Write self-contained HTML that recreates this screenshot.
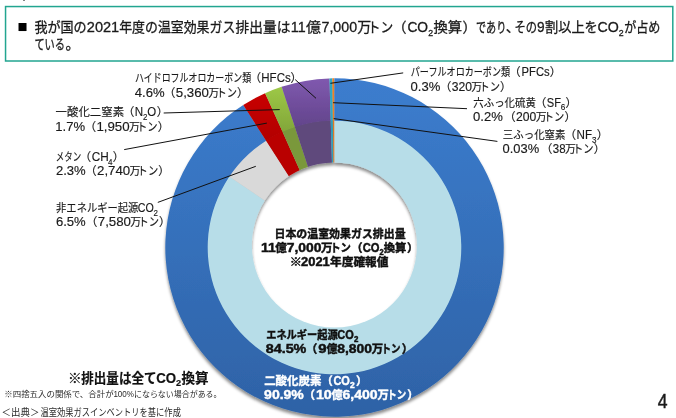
<!DOCTYPE html>
<html lang="ja"><head><meta charset="utf-8"><title>温室効果ガス排出量</title>
<style>html,body{margin:0;padding:0;background:#fff;}svg{display:block;font-family:'Liberation Sans','Noto Sans CJK JP',sans-serif;}</style>
</head><body>
<svg width="676" height="418" viewBox="0 0 676 418">
<defs>
<linearGradient id="gBlue" gradientUnits="userSpaceOnUse" x1="0" y1="78.3" x2="0" y2="416.7"><stop offset="0" stop-color="#3C7DCE"/><stop offset="1" stop-color="#2E62A6"/></linearGradient>
<linearGradient id="gRed" x1="0" y1="0" x2="0" y2="1"><stop offset="0" stop-color="#C80000"/><stop offset="1" stop-color="#B20000"/></linearGradient>
<linearGradient id="gGreen" x1="0" y1="0" x2="0" y2="1"><stop offset="0" stop-color="#9DC846"/><stop offset="1" stop-color="#82A63A"/></linearGradient>
<linearGradient id="gPurple" x1="0" y1="0" x2="0" y2="1"><stop offset="0" stop-color="#8059AF"/><stop offset="1" stop-color="#62448B"/></linearGradient>
<mask id="holeMask" maskUnits="userSpaceOnUse" x="0" y="0" width="676" height="440"><rect width="676" height="440" fill="#fff"/><circle cx="334.4" cy="245.0" r="82.6" fill="#000" filter="url(#blur05)"/></mask>
<filter id="ds" x="-5%" y="-5%" width="110%" height="112%"><feDropShadow dx="0" dy="2.8" stdDeviation="1.7" flood-color="#000" flood-opacity="0.45"/></filter>
<filter id="blur1" x="-10%" y="-10%" width="120%" height="120%"><feGaussianBlur stdDeviation="1.3"/></filter>
<filter id="blur05" x="-10%" y="-10%" width="120%" height="120%"><feGaussianBlur stdDeviation="0.6"/></filter>
</defs>
<rect width="676" height="418" fill="#fff"/>
<rect x="23.2" y="0" width="1.6" height="0.9" fill="#555"/>
<rect x="5.55" y="6.55" width="667.25" height="54.45" fill="#fff" stroke="#22A590" stroke-width="1.5"/>
<g filter="url(#ds)"><g mask="url(#holeMask)">
<path d="M334.50,120.10 A127.40,127.40 0 1 1 228.85,176.30 L276.45,208.38 A70.00,70.00 0 1 0 334.50,177.50 Z" fill="#B7DDE8" />
<path d="M228.85,176.30 A127.40,127.40 0 0 1 265.79,140.22 L296.75,188.55 A70.00,70.00 0 0 0 276.45,208.38 Z" fill="#D9D9D9" />
<path d="M265.79,140.22 A127.40,127.40 0 0 1 282.26,131.30 L305.80,183.66 A70.00,70.00 0 0 0 296.75,188.55 Z" fill="#B90000" />
<path d="M282.26,131.30 A127.40,127.40 0 0 1 294.69,126.48 L312.63,181.01 A70.00,70.00 0 0 0 305.80,183.66 Z" fill="#7A983A" />
<path d="M294.69,126.48 A127.40,127.40 0 0 1 330.68,120.16 L332.40,177.53 A70.00,70.00 0 0 0 312.63,181.01 Z" fill="#5F497C" />
<path d="M330.68,120.16 A127.40,127.40 0 0 1 332.87,120.11 L333.61,177.51 A70.00,70.00 0 0 0 332.40,177.53 Z" fill="#2F9DB8" />
<path d="M332.87,120.11 A127.40,127.40 0 0 1 334.24,120.10 L334.36,177.50 A70.00,70.00 0 0 0 333.61,177.51 Z" fill="#E07820" />
<path d="M334.24,120.10 A127.40,127.40 0 0 1 334.50,120.10 L334.50,177.50 A70.00,70.00 0 0 0 334.36,177.50 Z" fill="#B7DDE8" />
<path d="M334.50,78.30 A169.20,169.20 0 1 1 243.25,105.02 L266.11,140.72 A126.80,126.80 0 1 0 334.50,120.70 Z" fill="url(#gBlue)" />
<path d="M243.25,105.02 A169.20,169.20 0 0 1 265.12,93.18 L282.51,131.85 A126.80,126.80 0 0 0 266.11,140.72 Z" fill="url(#gRed)" />
<path d="M265.12,93.18 A169.20,169.20 0 0 1 281.63,86.77 L294.88,127.05 A126.80,126.80 0 0 0 282.51,131.85 Z" fill="url(#gGreen)" />
<path d="M281.63,86.77 A169.20,169.20 0 0 1 329.43,78.38 L330.70,120.76 A126.80,126.80 0 0 0 294.88,127.05 Z" fill="url(#gPurple)" />
<path d="M329.43,78.38 A169.20,169.20 0 0 1 332.34,78.31 L332.88,120.71 A126.80,126.80 0 0 0 330.70,120.76 Z" fill="#2FA7C4" />
<path d="M332.34,78.31 A169.20,169.20 0 0 1 334.15,78.30 L334.24,120.70 A126.80,126.80 0 0 0 332.88,120.71 Z" fill="#F08020" />
<path d="M334.15,78.30 A169.20,169.20 0 0 1 334.50,78.30 L334.50,120.70 A126.80,126.80 0 0 0 334.24,120.70 Z" fill="#3B7CCB" />
</g></g>
<line x1="295.2" y1="79.6" x2="316" y2="98.3" stroke="#111" stroke-width="1"/>
<line x1="163.7" y1="113.0" x2="279.7" y2="109.6" stroke="#111" stroke-width="1"/>
<line x1="124.2" y1="149.6" x2="266.9" y2="123.1" stroke="#111" stroke-width="1"/>
<line x1="157.8" y1="202.4" x2="255.8" y2="166.3" stroke="#111" stroke-width="1"/>
<line x1="403.2" y1="72.9" x2="330.4" y2="83.3" stroke="#111" stroke-width="1"/>
<line x1="467" y1="108.7" x2="333.1" y2="102.7" stroke="#111" stroke-width="1"/>
<line x1="497.4" y1="141.4" x2="333.7" y2="118.6" stroke="#111" stroke-width="1"/>
<text x="17.4" y="31.9" font-size="16.6" fill="#000">■</text>
<text x="34.4" y="31.6" font-size="14" fill="#1a1a1a" stroke="#1a1a1a" stroke-width="0.3" textLength="52.2" lengthAdjust="spacingAndGlyphs">我が国の</text>
<text x="86.8" y="31.6" font-size="15.120000000000001" fill="#1a1a1a" stroke="#1a1a1a" stroke-width="0.3" textLength="32.4" lengthAdjust="spacingAndGlyphs">2021</text>
<text x="119.2" y="31.6" font-size="14" fill="#1a1a1a" stroke="#1a1a1a" stroke-width="0.3" textLength="116.1" lengthAdjust="spacingAndGlyphs">年度の温室効果ガス</text>
<text x="235.6" y="31.6" font-size="14" fill="#1a1a1a" stroke="#1a1a1a" stroke-width="0.3" textLength="54.8" lengthAdjust="spacingAndGlyphs">排出量は</text>
<text x="290.8" y="31.6" font-size="15.120000000000001" fill="#1a1a1a" stroke="#1a1a1a" stroke-width="0.3" textLength="14.8" lengthAdjust="spacingAndGlyphs">11</text>
<text x="305.9" y="31.6" font-size="14" fill="#1a1a1a" stroke="#1a1a1a" stroke-width="0.3" textLength="15.0" lengthAdjust="spacingAndGlyphs">億</text>
<text x="321.5" y="31.6" font-size="15.120000000000001" fill="#1a1a1a" stroke="#1a1a1a" stroke-width="0.3" textLength="35.6" lengthAdjust="spacingAndGlyphs">7,000</text>
<text x="357.3" y="31.6" font-size="14" fill="#1a1a1a" stroke="#1a1a1a" stroke-width="0.3" textLength="14.0" lengthAdjust="spacingAndGlyphs">万</text>
<text x="407.4" y="31.6" font-size="15.120000000000001" fill="#1a1a1a" stroke="#1a1a1a" stroke-width="0.3" textLength="20.7" lengthAdjust="spacingAndGlyphs">CO</text>
<text x="433.4" y="31.6" font-size="14" fill="#1a1a1a" stroke="#1a1a1a" stroke-width="0.3" textLength="28.6" lengthAdjust="spacingAndGlyphs">換算</text>
<text x="476.0" y="31.6" font-size="14" fill="#1a1a1a" stroke="#1a1a1a" stroke-width="0.3" textLength="30.3" lengthAdjust="spacingAndGlyphs">であり</text>
<text x="514.4" y="31.6" font-size="14" fill="#1a1a1a" stroke="#1a1a1a" stroke-width="0.3" textLength="22.5" lengthAdjust="spacingAndGlyphs">その</text>
<text x="536.9" y="31.6" font-size="15.120000000000001" fill="#1a1a1a" stroke="#1a1a1a" stroke-width="0.3" textLength="7.6" lengthAdjust="spacingAndGlyphs">9</text>
<text x="545.0" y="31.6" font-size="14" fill="#1a1a1a" stroke="#1a1a1a" stroke-width="0.3" textLength="52.8" lengthAdjust="spacingAndGlyphs">割以上を</text>
<text x="597.6" y="31.6" font-size="15.120000000000001" fill="#1a1a1a" stroke="#1a1a1a" stroke-width="0.3" textLength="21.3" lengthAdjust="spacingAndGlyphs">CO</text>
<text x="624.3" y="31.6" font-size="14" fill="#1a1a1a" stroke="#1a1a1a" stroke-width="0.3" textLength="36.1" lengthAdjust="spacingAndGlyphs">が占め</text>
<text x="367.8" y="31.6" font-size="14" fill="#1a1a1a" stroke="#1a1a1a" stroke-width="0.3" textLength="25.4" lengthAdjust="spacingAndGlyphs">トン</text>
<text x="406.5" y="31.6" font-size="14" fill="#1a1a1a" stroke="#1a1a1a" stroke-width="0.3" text-anchor="end">（</text>
<text x="462.5" y="31.6" font-size="14" fill="#1a1a1a" stroke="#1a1a1a" stroke-width="0.3">）</text>
<text x="505.8" y="31.6" font-size="14" fill="#1a1a1a" stroke="#1a1a1a" stroke-width="0.3">、</text>
<text x="428.2" y="35.8" font-size="9.2" fill="#1a1a1a" stroke="#1a1a1a" stroke-width="0.3" textLength="4.9" lengthAdjust="spacingAndGlyphs">2</text>
<text x="618.7" y="35.8" font-size="9.2" fill="#1a1a1a" stroke="#1a1a1a" stroke-width="0.3" textLength="4.9" lengthAdjust="spacingAndGlyphs">2</text>
<text x="34.4" y="48.8" font-size="14" fill="#1a1a1a" stroke="#1a1a1a" stroke-width="0.3" textLength="30.6" lengthAdjust="spacingAndGlyphs">ている</text>
<text x="65.6" y="48.8" font-size="14" fill="#1a1a1a" stroke="#1a1a1a" stroke-width="0.3">。</text>
<text x="135.0" y="82.2" font-size="11.6" fill="#1a1a1a" stroke="#1a1a1a" stroke-width="0.15" textLength="116.1" lengthAdjust="spacingAndGlyphs">ハイドロフルオロカーボン類</text>
<text x="261.0" y="82.2" font-size="11.6" fill="#1a1a1a" stroke="#1a1a1a" stroke-width="0.15" text-anchor="end">（</text>
<text x="261.3" y="82.2" font-size="12.76" fill="#1a1a1a" stroke="#1a1a1a" stroke-width="0.15" textLength="29.4" lengthAdjust="spacingAndGlyphs">HFCs</text>
<text x="290.6" y="82.2" font-size="11.6" fill="#1a1a1a" stroke="#1a1a1a" stroke-width="0.15">）</text>
<text x="134.8" y="96.5" font-size="12.76" fill="#1a1a1a" stroke="#1a1a1a" stroke-width="0.15" textLength="29.8" lengthAdjust="spacingAndGlyphs">4.6%</text>
<text x="237.1" y="96.5" font-size="11.6" fill="#1a1a1a" stroke="#1a1a1a" stroke-width="0.15">）</text>
<text x="216.4" y="96.5" font-size="11.6" fill="#1a1a1a" stroke="#1a1a1a" stroke-width="0.15" textLength="20.6" lengthAdjust="spacingAndGlyphs">トン</text>
<text x="208.3" y="96.5" font-size="11.6" fill="#1a1a1a" stroke="#1a1a1a" stroke-width="0.15" textLength="10.9" lengthAdjust="spacingAndGlyphs">万</text>
<text x="175.8" y="96.5" font-size="12.76" fill="#1a1a1a" stroke="#1a1a1a" stroke-width="0.15" textLength="33.2" lengthAdjust="spacingAndGlyphs">5,360</text>
<text x="175.4" y="96.5" font-size="11.6" fill="#1a1a1a" stroke="#1a1a1a" stroke-width="0.15" text-anchor="end">（</text>
<text x="55.5" y="116.3" font-size="11.6" fill="#1a1a1a" stroke="#1a1a1a" stroke-width="0.15" textLength="68.7" lengthAdjust="spacingAndGlyphs">一酸化二窒素</text>
<text x="134.3" y="116.3" font-size="11.6" fill="#1a1a1a" stroke="#1a1a1a" stroke-width="0.15" text-anchor="end">（</text>
<text x="134.8" y="116.3" font-size="12.76" fill="#1a1a1a" stroke="#1a1a1a" stroke-width="0.15" textLength="8.4" lengthAdjust="spacingAndGlyphs">N</text>
<text x="143.0" y="120.1" font-size="8.6" fill="#1a1a1a" stroke="#1a1a1a" stroke-width="0.15" textLength="4.4" lengthAdjust="spacingAndGlyphs">2</text>
<text x="147.3" y="116.3" font-size="12.76" fill="#1a1a1a" stroke="#1a1a1a" stroke-width="0.15" textLength="8.9" lengthAdjust="spacingAndGlyphs">O</text>
<text x="156.7" y="116.3" font-size="11.6" fill="#1a1a1a" stroke="#1a1a1a" stroke-width="0.15">）</text>
<text x="55.3" y="130.5" font-size="12.76" fill="#1a1a1a" stroke="#1a1a1a" stroke-width="0.15" textLength="29.8" lengthAdjust="spacingAndGlyphs">1.7%</text>
<text x="157.7" y="130.5" font-size="11.6" fill="#1a1a1a" stroke="#1a1a1a" stroke-width="0.15">）</text>
<text x="137.0" y="130.5" font-size="11.6" fill="#1a1a1a" stroke="#1a1a1a" stroke-width="0.15" textLength="20.6" lengthAdjust="spacingAndGlyphs">トン</text>
<text x="128.9" y="130.5" font-size="11.6" fill="#1a1a1a" stroke="#1a1a1a" stroke-width="0.15" textLength="10.9" lengthAdjust="spacingAndGlyphs">万</text>
<text x="96.4" y="130.5" font-size="12.76" fill="#1a1a1a" stroke="#1a1a1a" stroke-width="0.15" textLength="33.2" lengthAdjust="spacingAndGlyphs">1,950</text>
<text x="96.0" y="130.5" font-size="11.6" fill="#1a1a1a" stroke="#1a1a1a" stroke-width="0.15" text-anchor="end">（</text>
<text x="55.8" y="160.9" font-size="11.6" fill="#1a1a1a" stroke="#1a1a1a" stroke-width="0.15" textLength="25.4" lengthAdjust="spacingAndGlyphs">メタン</text>
<text x="91.1" y="160.9" font-size="11.6" fill="#1a1a1a" stroke="#1a1a1a" stroke-width="0.15" text-anchor="end">（</text>
<text x="91.7" y="160.9" font-size="12.76" fill="#1a1a1a" stroke="#1a1a1a" stroke-width="0.15" textLength="17.0" lengthAdjust="spacingAndGlyphs">CH</text>
<text x="108.1" y="164.7" font-size="8.6" fill="#1a1a1a" stroke="#1a1a1a" stroke-width="0.15" textLength="4.5" lengthAdjust="spacingAndGlyphs">4</text>
<text x="112.7" y="160.9" font-size="11.6" fill="#1a1a1a" stroke="#1a1a1a" stroke-width="0.15">）</text>
<text x="55.9" y="175.0" font-size="12.76" fill="#1a1a1a" stroke="#1a1a1a" stroke-width="0.15" textLength="29.8" lengthAdjust="spacingAndGlyphs">2.3%</text>
<text x="158.3" y="175.0" font-size="11.6" fill="#1a1a1a" stroke="#1a1a1a" stroke-width="0.15">）</text>
<text x="137.6" y="175.0" font-size="11.6" fill="#1a1a1a" stroke="#1a1a1a" stroke-width="0.15" textLength="20.6" lengthAdjust="spacingAndGlyphs">トン</text>
<text x="129.5" y="175.0" font-size="11.6" fill="#1a1a1a" stroke="#1a1a1a" stroke-width="0.15" textLength="10.9" lengthAdjust="spacingAndGlyphs">万</text>
<text x="97.0" y="175.0" font-size="12.76" fill="#1a1a1a" stroke="#1a1a1a" stroke-width="0.15" textLength="33.2" lengthAdjust="spacingAndGlyphs">2,740</text>
<text x="96.6" y="175.0" font-size="11.6" fill="#1a1a1a" stroke="#1a1a1a" stroke-width="0.15" text-anchor="end">（</text>
<text x="56.1" y="211.7" font-size="11.6" fill="#1a1a1a" stroke="#1a1a1a" stroke-width="0.15" textLength="82.2" lengthAdjust="spacingAndGlyphs">非エネルギー起源</text>
<text x="137.8" y="211.7" font-size="12.76" fill="#1a1a1a" stroke="#1a1a1a" stroke-width="0.15" textLength="16.0" lengthAdjust="spacingAndGlyphs">CO</text>
<text x="153.5" y="215.5" font-size="8.6" fill="#1a1a1a" stroke="#1a1a1a" stroke-width="0.15" textLength="4.4" lengthAdjust="spacingAndGlyphs">2</text>
<text x="55.9" y="225.9" font-size="12.76" fill="#1a1a1a" stroke="#1a1a1a" stroke-width="0.15" textLength="29.8" lengthAdjust="spacingAndGlyphs">6.5%</text>
<text x="159.1" y="225.9" font-size="11.6" fill="#1a1a1a" stroke="#1a1a1a" stroke-width="0.15">）</text>
<text x="138.4" y="225.9" font-size="11.6" fill="#1a1a1a" stroke="#1a1a1a" stroke-width="0.15" textLength="20.6" lengthAdjust="spacingAndGlyphs">トン</text>
<text x="130.3" y="225.9" font-size="11.6" fill="#1a1a1a" stroke="#1a1a1a" stroke-width="0.15" textLength="10.9" lengthAdjust="spacingAndGlyphs">万</text>
<text x="97.8" y="225.9" font-size="12.76" fill="#1a1a1a" stroke="#1a1a1a" stroke-width="0.15" textLength="33.2" lengthAdjust="spacingAndGlyphs">7,580</text>
<text x="97.4" y="225.9" font-size="11.6" fill="#1a1a1a" stroke="#1a1a1a" stroke-width="0.15" text-anchor="end">（</text>
<text x="410.8" y="76.4" font-size="11.6" fill="#1a1a1a" stroke="#1a1a1a" stroke-width="0.15" textLength="99.3" lengthAdjust="spacingAndGlyphs">パーフルオロカーボン類</text>
<text x="520.7" y="76.4" font-size="11.6" fill="#1a1a1a" stroke="#1a1a1a" stroke-width="0.15" text-anchor="end">（</text>
<text x="521.6" y="76.4" font-size="12.76" fill="#1a1a1a" stroke="#1a1a1a" stroke-width="0.15" textLength="28.1" lengthAdjust="spacingAndGlyphs">PFCs</text>
<text x="549.7" y="76.4" font-size="11.6" fill="#1a1a1a" stroke="#1a1a1a" stroke-width="0.15">）</text>
<text x="410.6" y="90.7" font-size="12.76" fill="#1a1a1a" stroke="#1a1a1a" stroke-width="0.15" textLength="29.8" lengthAdjust="spacingAndGlyphs">0.3%</text>
<text x="500.1" y="90.7" font-size="11.6" fill="#1a1a1a" stroke="#1a1a1a" stroke-width="0.15">）</text>
<text x="479.4" y="90.7" font-size="11.6" fill="#1a1a1a" stroke="#1a1a1a" stroke-width="0.15" textLength="20.6" lengthAdjust="spacingAndGlyphs">トン</text>
<text x="471.3" y="90.7" font-size="11.6" fill="#1a1a1a" stroke="#1a1a1a" stroke-width="0.15" textLength="10.9" lengthAdjust="spacingAndGlyphs">万</text>
<text x="451.7" y="90.7" font-size="12.76" fill="#1a1a1a" stroke="#1a1a1a" stroke-width="0.15" textLength="20.3" lengthAdjust="spacingAndGlyphs">320</text>
<text x="451.3" y="90.7" font-size="11.6" fill="#1a1a1a" stroke="#1a1a1a" stroke-width="0.15" text-anchor="end">（</text>
<text x="473.3" y="106.5" font-size="11.6" fill="#1a1a1a" stroke="#1a1a1a" stroke-width="0.15" textLength="62.6" lengthAdjust="spacingAndGlyphs">六ふっ化硫黄</text>
<text x="546.4" y="106.5" font-size="11.6" fill="#1a1a1a" stroke="#1a1a1a" stroke-width="0.15" text-anchor="end">（</text>
<text x="546.8" y="106.5" font-size="12.76" fill="#1a1a1a" stroke="#1a1a1a" stroke-width="0.15" textLength="14.2" lengthAdjust="spacingAndGlyphs">SF</text>
<text x="560.8" y="110.3" font-size="8.6" fill="#1a1a1a" stroke="#1a1a1a" stroke-width="0.15" textLength="4.6" lengthAdjust="spacingAndGlyphs">6</text>
<text x="565.6" y="106.5" font-size="11.6" fill="#1a1a1a" stroke="#1a1a1a" stroke-width="0.15">）</text>
<text x="473.1" y="120.8" font-size="12.76" fill="#1a1a1a" stroke="#1a1a1a" stroke-width="0.15" textLength="29.8" lengthAdjust="spacingAndGlyphs">0.2%</text>
<text x="564.5" y="120.8" font-size="11.6" fill="#1a1a1a" stroke="#1a1a1a" stroke-width="0.15">）</text>
<text x="543.8" y="120.8" font-size="11.6" fill="#1a1a1a" stroke="#1a1a1a" stroke-width="0.15" textLength="20.6" lengthAdjust="spacingAndGlyphs">トン</text>
<text x="535.7" y="120.8" font-size="11.6" fill="#1a1a1a" stroke="#1a1a1a" stroke-width="0.15" textLength="10.9" lengthAdjust="spacingAndGlyphs">万</text>
<text x="516.1" y="120.8" font-size="12.76" fill="#1a1a1a" stroke="#1a1a1a" stroke-width="0.15" textLength="20.3" lengthAdjust="spacingAndGlyphs">200</text>
<text x="515.7" y="120.8" font-size="11.6" fill="#1a1a1a" stroke="#1a1a1a" stroke-width="0.15" text-anchor="end">（</text>
<text x="502.8" y="139.1" font-size="11.6" fill="#1a1a1a" stroke="#1a1a1a" stroke-width="0.15" textLength="62.7" lengthAdjust="spacingAndGlyphs">三ふっ化窒素</text>
<text x="576.0" y="139.1" font-size="11.6" fill="#1a1a1a" stroke="#1a1a1a" stroke-width="0.15" text-anchor="end">（</text>
<text x="576.5" y="139.1" font-size="12.76" fill="#1a1a1a" stroke="#1a1a1a" stroke-width="0.15" textLength="15.5" lengthAdjust="spacingAndGlyphs">NF</text>
<text x="591.9" y="142.9" font-size="8.6" fill="#1a1a1a" stroke="#1a1a1a" stroke-width="0.15" textLength="4.5" lengthAdjust="spacingAndGlyphs">3</text>
<text x="596.7" y="139.1" font-size="11.6" fill="#1a1a1a" stroke="#1a1a1a" stroke-width="0.15">）</text>
<text x="502.6" y="153.4" font-size="12.76" fill="#1a1a1a" stroke="#1a1a1a" stroke-width="0.15" textLength="36.6" lengthAdjust="spacingAndGlyphs">0.03%</text>
<text x="593.7" y="153.4" font-size="11.6" fill="#1a1a1a" stroke="#1a1a1a" stroke-width="0.15">）</text>
<text x="573.0" y="153.4" font-size="11.6" fill="#1a1a1a" stroke="#1a1a1a" stroke-width="0.15" textLength="20.6" lengthAdjust="spacingAndGlyphs">トン</text>
<text x="564.9" y="153.4" font-size="11.6" fill="#1a1a1a" stroke="#1a1a1a" stroke-width="0.15" textLength="10.9" lengthAdjust="spacingAndGlyphs">万</text>
<text x="552.8" y="153.4" font-size="12.76" fill="#1a1a1a" stroke="#1a1a1a" stroke-width="0.15" textLength="12.8" lengthAdjust="spacingAndGlyphs">38</text>
<text x="552.4" y="153.4" font-size="11.6" fill="#1a1a1a" stroke="#1a1a1a" stroke-width="0.15" text-anchor="end">（</text>
<text x="274.5" y="237.7" font-size="11.3" font-weight="bold" fill="#111" stroke="#111" stroke-width="0.45" textLength="131.1" lengthAdjust="spacingAndGlyphs">日本の温室効果ガス排出量</text>
<text x="261.1" y="251.7" font-size="12.43" font-weight="bold" fill="#111" stroke="#111" stroke-width="0.45" textLength="14.8" lengthAdjust="spacingAndGlyphs">11</text>
<text x="275.2" y="251.7" font-size="11.3" font-weight="bold" fill="#111" stroke="#111" stroke-width="0.45" textLength="11.6" lengthAdjust="spacingAndGlyphs">億</text>
<text x="286.8" y="251.7" font-size="12.43" font-weight="bold" fill="#111" stroke="#111" stroke-width="0.45" textLength="34.7" lengthAdjust="spacingAndGlyphs">7,000</text>
<text x="321.1" y="251.7" font-size="11.3" font-weight="bold" fill="#111" stroke="#111" stroke-width="0.45" textLength="11.6" lengthAdjust="spacingAndGlyphs">万</text>
<text x="330.2" y="251.7" font-size="11.3" font-weight="bold" fill="#111" stroke="#111" stroke-width="0.45" textLength="20.8" lengthAdjust="spacingAndGlyphs">トン</text>
<text x="362.6" y="251.7" font-size="11.3" font-weight="bold" fill="#111" stroke="#111" stroke-width="0.45" text-anchor="end">（</text>
<text x="362.7" y="251.7" font-size="12.43" font-weight="bold" fill="#111" stroke="#111" stroke-width="0.45" textLength="16.8" lengthAdjust="spacingAndGlyphs">CO</text>
<text x="379.6" y="254.6" font-size="8.6" font-weight="bold" fill="#111" stroke="#111" stroke-width="0.45" textLength="4.2" lengthAdjust="spacingAndGlyphs">2</text>
<text x="383.8" y="251.7" font-size="11.3" font-weight="bold" fill="#111" stroke="#111" stroke-width="0.45" textLength="22.6" lengthAdjust="spacingAndGlyphs">換算</text>
<text x="407.1" y="251.7" font-size="11.3" font-weight="bold" fill="#111" stroke="#111" stroke-width="0.45">）</text>
<text x="289.7" y="266.2" font-size="11.3" font-weight="bold" fill="#111" stroke="#111" stroke-width="0.45" textLength="12.2" lengthAdjust="spacingAndGlyphs">※</text>
<text x="301.0" y="266.2" font-size="12.43" font-weight="bold" fill="#111" stroke="#111" stroke-width="0.45" textLength="28.8" lengthAdjust="spacingAndGlyphs">2021</text>
<text x="330.0" y="266.2" font-size="11.3" font-weight="bold" fill="#111" stroke="#111" stroke-width="0.45" textLength="58.5" lengthAdjust="spacingAndGlyphs">年度確報値</text>
<text x="266.2" y="339.4" font-size="11.3" font-weight="bold" fill="#111" stroke="#111" stroke-width="0.45" textLength="71.4" lengthAdjust="spacingAndGlyphs">エネルギー起源</text>
<text x="337.2" y="339.4" font-size="12.43" font-weight="bold" fill="#111" stroke="#111" stroke-width="0.45" textLength="16.5" lengthAdjust="spacingAndGlyphs">CO</text>
<text x="354.0" y="342.3" font-size="8.6" font-weight="bold" fill="#111" stroke="#111" stroke-width="0.45" textLength="4.4" lengthAdjust="spacingAndGlyphs">2</text>
<text x="265.7" y="353.3" font-size="12.43" font-weight="bold" fill="#111" stroke="#111" stroke-width="0.45" textLength="40.7" lengthAdjust="spacingAndGlyphs">84.5%</text>
<text x="317.4" y="353.3" font-size="11.3" font-weight="bold" fill="#111" stroke="#111" stroke-width="0.45" text-anchor="end">（</text>
<text x="318.2" y="353.3" font-size="12.43" font-weight="bold" fill="#111" stroke="#111" stroke-width="0.45" textLength="8.3" lengthAdjust="spacingAndGlyphs">9</text>
<text x="326.4" y="353.3" font-size="11.3" font-weight="bold" fill="#111" stroke="#111" stroke-width="0.45" textLength="11.0" lengthAdjust="spacingAndGlyphs">億</text>
<text x="337.2" y="353.3" font-size="12.43" font-weight="bold" fill="#111" stroke="#111" stroke-width="0.45" textLength="34.8" lengthAdjust="spacingAndGlyphs">8,800</text>
<text x="371.8" y="353.3" font-size="11.3" font-weight="bold" fill="#111" stroke="#111" stroke-width="0.45" textLength="11.4" lengthAdjust="spacingAndGlyphs">万</text>
<text x="381.6" y="353.3" font-size="11.3" font-weight="bold" fill="#111" stroke="#111" stroke-width="0.45" textLength="19.0" lengthAdjust="spacingAndGlyphs">トン</text>
<text x="401.7" y="353.3" font-size="11.3" font-weight="bold" fill="#111" stroke="#111" stroke-width="0.45">）</text>
<text x="264.2" y="385.4" font-size="11.3" font-weight="bold" fill="#fff" stroke="#fff" stroke-width="0.4" textLength="57.2" lengthAdjust="spacingAndGlyphs">二酸化炭素</text>
<text x="332.8" y="385.4" font-size="11.3" font-weight="bold" fill="#fff" stroke="#fff" stroke-width="0.4" text-anchor="end">（</text>
<text x="333.4" y="385.4" font-size="12.43" font-weight="bold" fill="#fff" stroke="#fff" stroke-width="0.4" textLength="16.5" lengthAdjust="spacingAndGlyphs">CO</text>
<text x="349.9" y="388.3" font-size="8.6" font-weight="bold" fill="#fff" stroke="#fff" stroke-width="0.4" textLength="4.7" lengthAdjust="spacingAndGlyphs">2</text>
<text x="355.9" y="385.4" font-size="11.3" font-weight="bold" fill="#fff" stroke="#fff" stroke-width="0.4">）</text>
<text x="264.1" y="399.3" font-size="12.43" font-weight="bold" fill="#fff" stroke="#fff" stroke-width="0.4" textLength="39.7" lengthAdjust="spacingAndGlyphs">90.9%</text>
<text x="315.1" y="399.3" font-size="11.3" font-weight="bold" fill="#fff" stroke="#fff" stroke-width="0.4" text-anchor="end">（</text>
<text x="315.9" y="399.3" font-size="12.43" font-weight="bold" fill="#fff" stroke="#fff" stroke-width="0.4" textLength="15.9" lengthAdjust="spacingAndGlyphs">10</text>
<text x="331.5" y="399.3" font-size="11.3" font-weight="bold" fill="#fff" stroke="#fff" stroke-width="0.4" textLength="11.2" lengthAdjust="spacingAndGlyphs">億</text>
<text x="342.5" y="399.3" font-size="12.43" font-weight="bold" fill="#fff" stroke="#fff" stroke-width="0.4" textLength="35.1" lengthAdjust="spacingAndGlyphs">6,400</text>
<text x="377.5" y="399.3" font-size="11.3" font-weight="bold" fill="#fff" stroke="#fff" stroke-width="0.4" textLength="11.3" lengthAdjust="spacingAndGlyphs">万</text>
<text x="387.2" y="399.3" font-size="11.3" font-weight="bold" fill="#fff" stroke="#fff" stroke-width="0.4" textLength="19.0" lengthAdjust="spacingAndGlyphs">トン</text>
<text x="407.3" y="399.3" font-size="11.3" font-weight="bold" fill="#fff" stroke="#fff" stroke-width="0.4">）</text>
<text x="68.1" y="383.2" font-size="13.6" font-weight="bold" fill="#111" stroke="#111" stroke-width="0.2" textLength="13.7" lengthAdjust="spacingAndGlyphs">※</text>
<text x="81.3" y="383.2" font-size="13.6" font-weight="bold" fill="#111" stroke="#111" stroke-width="0.2" textLength="75.2" lengthAdjust="spacingAndGlyphs">排出量は全て</text>
<text x="156.3" y="383.2" font-size="14.96" font-weight="bold" fill="#111" stroke="#111" stroke-width="0.2" textLength="19.9" lengthAdjust="spacingAndGlyphs">CO</text>
<text x="176.0" y="386.3" font-size="9.8" font-weight="bold" fill="#111" stroke="#111" stroke-width="0.2" textLength="5.1" lengthAdjust="spacingAndGlyphs">2</text>
<text x="181.4" y="383.2" font-size="13.6" font-weight="bold" fill="#111" stroke="#111" stroke-width="0.2" textLength="27.1" lengthAdjust="spacingAndGlyphs">換算</text>
<text x="4.3" y="397.3" font-size="8.2" fill="#2a2a2a" textLength="109.3" lengthAdjust="spacingAndGlyphs">※四捨五入の関係で、合計が</text>
<text x="113.4" y="397.3" font-size="8.2" fill="#2a2a2a" textLength="20.6" lengthAdjust="spacingAndGlyphs">100%</text>
<text x="134.0" y="397.3" font-size="8.2" fill="#2a2a2a" textLength="87.5" lengthAdjust="spacingAndGlyphs">にならない場合がある。</text>
<text x="1.6" y="415.6" font-size="9.8" fill="#2a2a2a" textLength="37.8" lengthAdjust="spacingAndGlyphs">＜出典＞</text>
<text x="40.4" y="415.6" font-size="9.8" fill="#2a2a2a" textLength="140.5" lengthAdjust="spacingAndGlyphs">温室効果ガスインベントリを基に作成</text>
<text x="657.8" y="407.8" font-size="19.5" fill="#1a1a1a" stroke="#1a1a1a" stroke-width="0.45" textLength="9.8" lengthAdjust="spacingAndGlyphs">4</text>
</svg>
</body></html>
